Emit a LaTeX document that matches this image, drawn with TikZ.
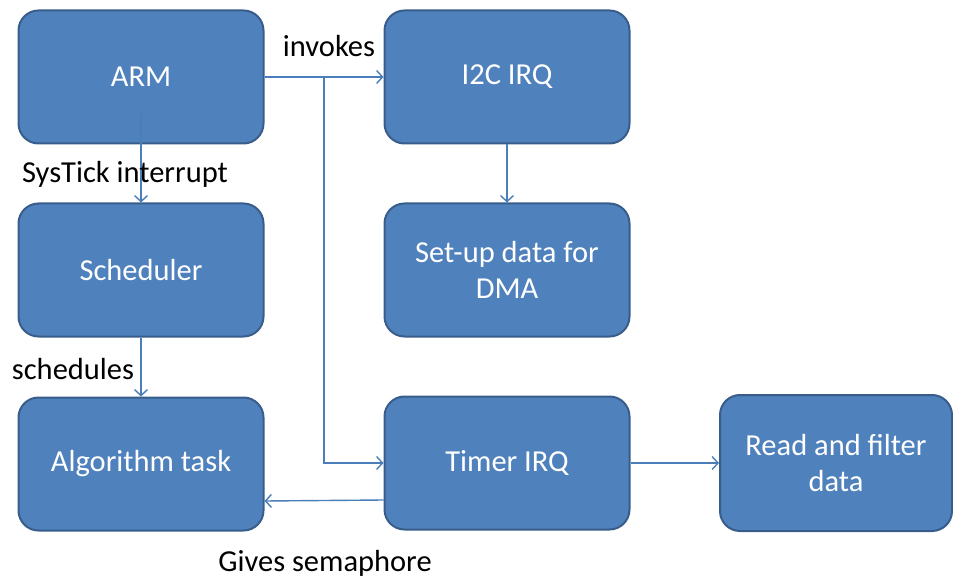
\documentclass[tikz,border=0pt]{standalone}
\usepackage{fontspec}
\setmainfont{Carlito}
\usepackage{xcolor}
\usetikzlibrary{calc}
\usetikzlibrary{arrows.meta}
\definecolor{boxfill}{HTML}{4F81BD}
\definecolor{boxline}{HTML}{385D8A}
\definecolor{linkline}{HTML}{4A7EBB}
\begin{document}
\begin{tikzpicture}[x=1pt, y=-1pt,
		block/.style={draw=boxline, fill=boxfill, line width=2pt, rounded corners=20pt,
			minimum width=245pt, minimum height=133pt, text=white, align=center,
			font=\fontsize{30.5}{36}\selectfont},
		link/.style={draw=linkline, line width=1.4pt, -{Straight Barb[length=6pt, width=13pt]}},
		tag/.style={font=\fontsize{30.5}{36}\selectfont, text=black, inner sep=0pt}]
		\useasboundingbox (0,0) rectangle (953,580);
		% boxes
		\node[block] (arm) at (141, 77) {ARM};
		\node[block] (i2c) at (507, 77) {I2C IRQ};
		\node[block] (sched) at (141, 270) {Scheduler};
		\node[block] (setup) at (507, 270) {Set-up data for\\DMA};
		\node[block] (algo) at (141, 464) {Algorithm task};
		\node[block] (timer) at (507, 463) {Timer IRQ};
		\node[block, minimum width=232pt, minimum height=136pt] (read) at (836, 463) {Read and filter\\data};
		% connectors
		\coordinate (split) at (324, 77);
		\draw[link] (arm.east) -- (i2c.west);
		\draw[link] (split) |- (timer.west);
		\draw[link] ([yshift=-36pt]arm.center) -- (sched.north);
		\draw[link] (sched.south) -- (algo.north);
		\draw[link] (i2c.south) -- (setup.north);
		\draw[link] (timer.east) -- (read.west);
		\draw[link] ([yshift=-37pt]timer.west) -- ([yshift=-37pt]algo.east);
		% labels
		\node[tag] (invokes) at (329, 46) {invokes};
		\node[tag] (systick) at (125, 174) {SysTick interrupt};
		\node[tag] (schedules) at (73, 369) {schedules};
		\node[tag] (gives) at (325, 563) {Gives semaphore};
	\end{tikzpicture}
\end{document}
